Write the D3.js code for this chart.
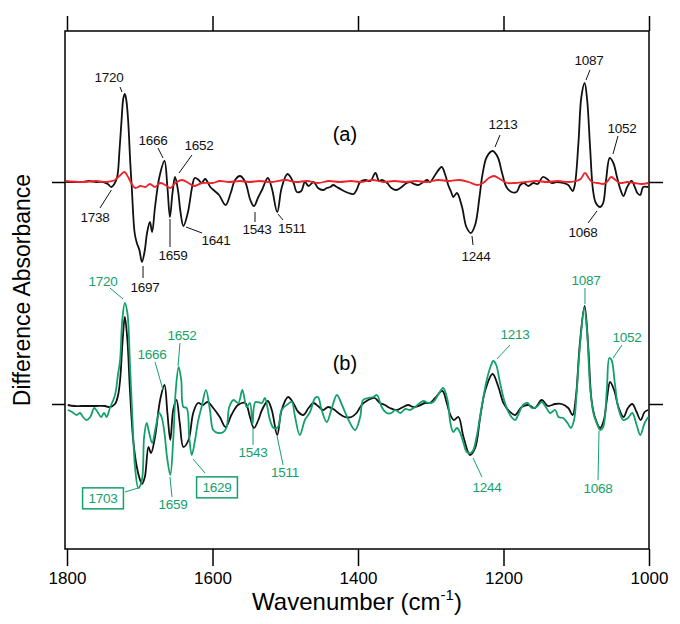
<!DOCTYPE html>
<html><head><meta charset="utf-8">
<script src="https://cdn.jsdelivr.net/npm/d3@7"></script>
<style>
html,body{margin:0;padding:0;background:#fff;}
svg{display:block;}
text{font-family:"Liberation Sans",Arial,Helvetica,sans-serif;}
</style></head><body>
<svg id="chart" width="680" height="624"></svg>
<script>
// ---------------- DATA ----------------
const xTicks = [1800, 1600, 1400, 1200, 1000];

// (a) black spectrum: [wavenumber, difference absorbance (a.u.)]
const blackA = [[1802,0],[1790,0],[1780,0],[1770,1],[1760,0],[1750,0],[1744,-2],[1739,-5],[1735,-2],[1731,5],[1728,30],[1725,62],[1722.5,84],[1720.5,88],[1718.5,82],[1716,62],[1713,19],[1711,-5],[1707,-51],[1704,-61],[1700.5,-68],[1697,-80],[1693,-68],[1690,-51],[1686,-40],[1683,-50],[1679,-25],[1673,5],[1666,21],[1662,-5],[1658.5,-35],[1655,-11],[1651.5,5],[1647.5,-8],[1644,-30],[1640,-44],[1634,-31],[1628,-5],[1624.5,4],[1619,2],[1615,-1],[1610,3],[1603,-5],[1597,-9],[1591,-13],[1582,-23],[1575,-11],[1569,2],[1562,6],[1555,0],[1548,-18],[1543,-24],[1537,-15],[1532,-8],[1524,4],[1518.5,-6],[1511,-30],[1505,-6],[1497,8],[1489,0],[1484,-10],[1478,-9],[1473,0],[1468,-4],[1461,0],[1455,-6],[1448,-8],[1443,-6],[1438,-5],[1434,-3],[1429,-5],[1422,-8],[1413,-11],[1406,-12],[1402,-8],[1397,0],[1390,2],[1383,1],[1376,9],[1371,1],[1367,2],[1360,-1],[1354,-6],[1347,-8],[1340,-5],[1333,-1],[1328,0],[1323,-2],[1317,-3],[1310,0],[1305,2],[1301,0],[1294,7],[1285,15],[1280,7],[1276,-3],[1272,-10],[1269,-15],[1264,-11],[1257,-25],[1251,-45],[1245,-51],[1239,-43],[1233,-15],[1229,7],[1223,25],[1215,31],[1208,25],[1202,9],[1196,-5],[1189,-10],[1182,-10],[1177,-3],[1172,-1],[1166,-4],[1159,-1],[1153,-2],[1146,5],[1140,3],[1134,-1],[1127,0],[1118,-1],[1111,-3],[1105,-9],[1102,-3],[1097,39],[1093,85],[1088.5,99],[1085,82],[1081,35],[1077,-8],[1073,-21],[1067,-25],[1063,-21],[1059,2],[1054,24],[1049,19],[1044,5],[1040,-6],[1035,-14],[1030,-5],[1024,1],[1019,-6],[1016,-11],[1012,-13],[1008,-5],[1001,-5]];

// (a) red spectrum
const redA = [[1802,1],[1780,0],[1760,1],[1745,0],[1738,1],[1734,2],[1728,6],[1721,10],[1716,5],[1711,-2],[1706,-6],[1699,-4],[1692,-5],[1686,-2],[1679,-5],[1672,-1],[1665,-3],[1658,-6],[1651,-1],[1642,2],[1633,-1],[1626,-4],[1614,-1],[1600,-1],[1590,1],[1578,0],[1562,1],[1550,0],[1535,1],[1520,0],[1500,2],[1485,0],[1470,1],[1455,-1],[1440,1],[1425,0],[1410,1],[1395,0],[1380,2],[1365,0],[1350,1],[1335,0],[1320,1],[1305,0],[1290,2],[1275,1],[1260,2],[1248,0],[1236,-3],[1228,-1],[1220,4],[1213,6],[1205,3],[1195,-1],[1185,-1],[1170,0],[1155,1],[1140,0],[1125,1],[1110,0],[1100,1],[1094,3],[1088,9],[1083,4],[1078,0],[1070,-1],[1063,-2],[1058,0],[1052,5],[1046,2],[1040,-1],[1030,0],[1020,-1],[1010,-2],[1001,-1]];

// (b) black spectrum
const blackB = [[1799,-1],[1790,-2],[1780,-2],[1770,-2],[1760,-2],[1748,-2],[1741,-3],[1734,0],[1730,8],[1727,24],[1723.5,64],[1720.5,87],[1717,64],[1713.5,14],[1709,-36],[1704,-63],[1700,-75],[1697,-80],[1693,-73],[1688,-43],[1684.5,-49],[1679,-33],[1672,4],[1666,19],[1662,-9],[1658,-36],[1654,-6],[1649.5,4],[1645,-19],[1640,-43],[1633,-36],[1626.5,-9],[1620,1],[1613,-1],[1607,2],[1599,-4],[1590,-13],[1582,-23],[1574,-11],[1565,-1],[1555,1],[1548.5,-13],[1543,-24],[1537,-16],[1532,-6],[1524,3],[1518.5,-6],[1511,-31],[1505,-6],[1496,7],[1489,1],[1482,-8],[1475,-11],[1468,-4],[1461,1],[1455,-2],[1448,-6],[1441,-3],[1434,-5],[1427,-9],[1418,-13],[1409,-13],[1402,-9],[1395,-1],[1386,4],[1377,6],[1370,1],[1363,-1],[1356,-4],[1347,-6],[1338,-3],[1331,-1],[1324,-3],[1317,-2],[1308,1],[1301,1],[1294,6],[1284,13],[1278,1],[1273,-11],[1268,-16],[1262,-13],[1255,-33],[1246,-51],[1239,-44],[1232,-13],[1225,14],[1215,30],[1207,17],[1200,1],[1191,-8],[1184,-11],[1175,-3],[1166,-1],[1157,-4],[1147.5,4],[1139,-2],[1129,0],[1120,0],[1111,-4],[1105,-11],[1100.5,7],[1095,61],[1088.5,98],[1083.5,57],[1079,4],[1074,-14],[1067,-24],[1062,-16],[1058,4],[1053.5,22],[1048,14],[1042,-3],[1035,-13],[1029,-4],[1023,0],[1017,-8],[1011.5,-16],[1006,-8],[1001,-6]];

// (b) green spectrum
const greenB = [[1799,-6],[1793,-8],[1787,-11],[1782,-9],[1778,-13],[1773,-16],[1768,-13],[1762.5,-4],[1758,-8],[1753,-13],[1749,-9],[1745.5,-13],[1741,-4],[1734,9],[1730,29],[1727,44],[1724,84],[1720.5,101],[1717,91],[1713.5,41],[1710,-16],[1706.5,-63],[1702,-84],[1697,-76],[1694,-33],[1690.5,-19],[1687,-29],[1683,-39],[1678,-23],[1673.5,-9],[1670,-13],[1666,-29],[1662.5,-53],[1658,-71],[1654,-36],[1650.5,14],[1646.5,37],[1643,24],[1640,-3],[1635.5,-4],[1632,-33],[1628.5,-51],[1624,-36],[1619.5,-16],[1615,-3],[1609,14],[1603.5,-6],[1599,-26],[1592,-29],[1585,-28],[1580.5,-23],[1577,-3],[1571,4],[1564.5,1],[1559,14],[1553,-3],[1548.5,1],[1545,-20],[1541,2],[1532,1],[1528,6],[1521,-16],[1516,-24],[1510,-23],[1505,-6],[1498,-1],[1491,2],[1487,-11],[1480,-31],[1473,-16],[1466,-8],[1459,6],[1455,7],[1450,-6],[1443,-18],[1436,-4],[1429,9],[1422,-1],[1413,-16],[1404,-26],[1397,-13],[1393,4],[1386,6],[1379,7],[1374,9],[1367.5,-3],[1360.5,-9],[1354,-9],[1349,-6],[1342,-9],[1335,-5],[1328.5,-6],[1322,-3],[1315,1],[1310,3],[1303,1],[1296.5,2],[1290,9],[1283,16],[1277,4],[1273,-19],[1269,-28],[1264,-24],[1260,-28],[1255,-39],[1250.5,-48],[1245,-49],[1241.5,-46],[1237,-33],[1230,-3],[1223,24],[1217.5,38],[1214,43],[1210,39],[1205,22],[1198,1],[1191,-11],[1184,-16],[1180,-11],[1173,-1],[1167,1],[1161,-4],[1154.5,-3],[1147.5,2],[1141,-4],[1136,-9],[1129,-6],[1124.5,-13],[1118,-14],[1112,-19],[1107.5,-24],[1103,-16],[1099.5,11],[1095,57],[1089,96],[1085,71],[1081,17],[1076.5,-9],[1072,-19],[1067,-26],[1063,-23],[1058,14],[1054.5,46],[1051.5,44],[1047,21],[1042.5,-3],[1035.5,-16],[1029,-14],[1023,-9],[1017,-21],[1012,-31],[1006,-19],[1001,-13]];

// peak labels (a): text, label position, leader line from -> to  [wavenumber, value]
const labelsA = [
  {t:"1720", at:[1742.3,105], from:[1727.1,95], to:[1724.4,90]},
  {t:"1666", at:[1681.8,42], from:[1674.9,34], to:[1668,24]},
  {t:"1652", at:[1618.6,37], from:[1628.2,27], to:[1646,9]},
  {t:"1738", at:[1761.5,-35], from:[1754.6,-26], to:[1739,-8]},
  {t:"1659", at:[1654.3,-73], from:[1658.4,-65], to:[1658.4,-37]},
  {t:"1641", at:[1595.2,-58], from:[1614.4,-51], to:[1636.4,-45]},
  {t:"1697", at:[1692.8,-105], from:[1695.5,-96], to:[1695.5,-84]},
  {t:"1543", at:[1538.8,-47], from:[1541.6,-40], to:[1541.6,-30]},
  {t:"1511", at:[1490.7,-46], from:[1503,-38], to:[1510,-32]},
  {t:"1244", at:[1237.8,-74], from:[1241.9,-63], to:[1243.3,-54]},
  {t:"1213", at:[1200.7,58], from:[1204.8,47], to:[1211.7,35]},
  {t:"1087", at:[1082.5,122], from:[1081.1,112], to:[1086.6,102]},
  {t:"1052", at:[1037.1,54], from:[1042.6,46], to:[1049.5,28]},
  {t:"1068", at:[1090.7,-50], from:[1083.8,-41], to:[1071.5,-29]}
];

// peak labels (b)
const labelsB = [
  {t:"1720", at:[1750.5,123], from:[1740.9,116], to:[1723,105]},
  {t:"1652", at:[1641.9,69], from:[1644.7,61], to:[1647.4,38]},
  {t:"1666", at:[1683.2,50], from:[1679,42], to:[1668,14]},
  {t:"1703", at:[1750.5,-94], from:[1720.3,-88], to:[1702.4,-84], box:true},
  {t:"1659", at:[1654.3,-100], from:[1655.7,-93], to:[1658.4,-73]},
  {t:"1629", at:[1593.8,-83], from:[1610.3,-69], to:[1626.8,-55], box:true},
  {t:"1543", at:[1544.3,-48], from:[1544.3,-41], to:[1544.3,-24]},
  {t:"1511", at:[1500.3,-68], from:[1503,-61], to:[1511.3,-32]},
  {t:"1244", at:[1222.7,-83], from:[1229.6,-73], to:[1241.9,-54]},
  {t:"1213", at:[1184.2,70], from:[1191.1,59], to:[1209,45]},
  {t:"1087", at:[1086.6,124], from:[1088,116], to:[1088,100]},
  {t:"1052", at:[1030.2,67], from:[1037.1,59], to:[1049.5,46]},
  {t:"1068", at:[1070.1,-84], from:[1070.1,-76], to:[1068.7,-27]}
];

const panelTags = [{t:"(a)", at:[1418,48], panel:"a"}, {t:"(b)", at:[1418,41], panel:"b"}];

// ---------------- LAYOUT ----------------
const frame = {left:65, right:649, top:31, bottom:549};
const offsets = {a:222, b:0};
const colors = {black:"#111", red:"#ee2228", green:"#14a06a"};

const svg = d3.select("#chart");
const x = d3.scaleLinear().domain([1802.75, 1000]).range([frame.left, frame.right]);
const y = d3.scaleLinear().domain([-145, 373]).range([frame.bottom, frame.top]);

const line = off => d3.line()
  .x(d => x(d[0]))
  .y(d => y(d[1] + off))
  .curve(d3.curveCatmullRom.alpha(0.5));

// frame
svg.append("rect").attr("x", frame.left).attr("y", frame.top)
  .attr("width", frame.right - frame.left).attr("height", frame.bottom - frame.top)
  .attr("fill", "none").attr("stroke", "#000").attr("stroke-width", 1.5);

// axes
const axB = svg.append("g").attr("transform", `translate(0,${frame.bottom})`)
  .call(d3.axisBottom(x).tickValues(xTicks).tickSize(17).tickPadding(6).tickFormat(d3.format("d")));
const axT = svg.append("g").attr("transform", `translate(0,${frame.top})`)
  .call(d3.axisTop(x).tickValues(xTicks).tickSize(15).tickFormat(""));
const axL = svg.append("g").attr("transform", `translate(${frame.left},0)`)
  .call(d3.axisLeft(y).tickValues([offsets.a, offsets.b]).tickSize(13).tickFormat(""));
const axR = svg.append("g").attr("transform", `translate(${frame.right},0)`)
  .call(d3.axisRight(y).tickValues([offsets.a, offsets.b]).tickSize(14).tickFormat(""));
[axB, axT, axL, axR].forEach(g => {
  g.select(".domain").remove();
  g.selectAll(".tick line").attr("stroke", "#000").attr("stroke-width", 1.5);
});
axB.selectAll(".tick text").attr("font-size", 17).attr("fill", "#000")
  .attr("font-family", "'Liberation Sans', Arial, sans-serif");

// axis titles
const xt = svg.append("text").attr("x", (frame.left + frame.right) / 2).attr("y", 610)
  .attr("text-anchor", "middle").attr("font-size", 24).attr("fill", "#000");
xt.append("tspan").text("Wavenumber (cm");
xt.append("tspan").attr("font-size", 15).attr("dy", -10).text("-1");
xt.append("tspan").attr("dy", 10).text(")");

svg.append("text").attr("transform", "translate(30,290) rotate(-90)")
  .attr("text-anchor", "middle").attr("font-size", 23).attr("fill", "#000")
  .text("Difference Absorbance");

// spectra
const g = svg.append("g");
g.append("path").datum(blackA).attr("d", line(offsets.a)).attr("fill", "none")
  .attr("stroke", colors.black).attr("stroke-width", 1.8).attr("stroke-linejoin", "round");
g.append("path").datum(redA).attr("d", line(offsets.a)).attr("fill", "none")
  .attr("stroke", colors.red).attr("stroke-width", 1.8).attr("stroke-linejoin", "round");
g.append("path").datum(blackB).attr("d", line(offsets.b)).attr("fill", "none")
  .attr("stroke", colors.black).attr("stroke-width", 1.8).attr("stroke-linejoin", "round");
g.append("path").datum(greenB).attr("d", line(offsets.b)).attr("fill", "none")
  .attr("stroke", colors.green).attr("stroke-width", 1.8).attr("stroke-linejoin", "round");

// labels
function drawLabels(list, off, color) {
  const lg = svg.append("g");
  list.forEach(l => {
    lg.append("line")
      .attr("x1", x(l.from[0])).attr("y1", y(l.from[1] + off))
      .attr("x2", x(l.to[0])).attr("y2", y(l.to[1] + off))
      .attr("stroke", color).attr("stroke-width", 1);
    const tx = lg.append("text").attr("x", x(l.at[0])).attr("y", y(l.at[1] + off))
      .attr("dy", "0.36em").attr("text-anchor", "middle")
      .attr("font-size", 13.5).attr("letter-spacing", -0.3).attr("fill", color).text(l.t);
    if (l.box) {
      const b = tx.node().getBBox();
      lg.append("rect").attr("x", b.x - 6).attr("y", b.y - 3)
        .attr("width", b.width + 12).attr("height", b.height + 6)
        .attr("fill", "none").attr("stroke", color).attr("stroke-width", 1.5);
    }
  });
}
drawLabels(labelsA, offsets.a, colors.black);
drawLabels(labelsB, offsets.b, colors.green);

panelTags.forEach(p => {
  svg.append("text").attr("x", x(p.at[0])).attr("y", y(p.at[1] + offsets[p.panel]))
    .attr("dy", "0.36em").attr("text-anchor", "middle").attr("font-size", 20)
    .attr("fill", "#000").text(p.t);
});
</script>
</body></html>
